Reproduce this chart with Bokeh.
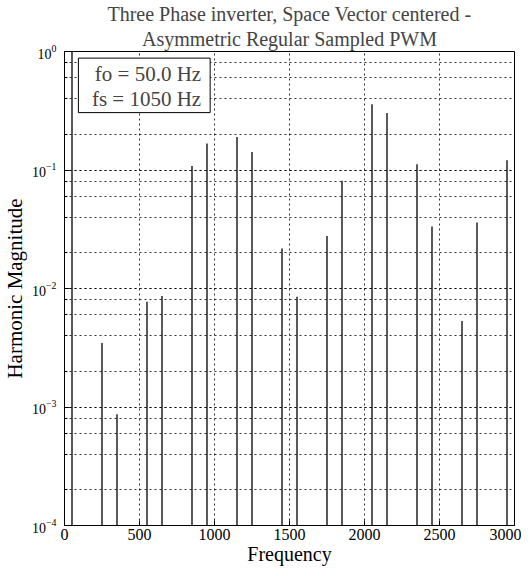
from bokeh.plotting import figure
from bokeh.models import (Range1d, Title, Label, BoxAnnotation,
                          LogTicker, FixedTicker, ColumnDataSource)
from bokeh.embed import file_html
from bokeh.resources import INLINE

# ---- data ----
freqs = [50, 250, 350, 550, 650, 850, 950, 1150, 1250, 1450, 1550,
         1750, 1850, 2050, 2150, 2350, 2450, 2650, 2750, 2950]
mags = [1.0, 0.00346, 0.00087, 0.00774, 0.00865, 0.108, 0.167, 0.19, 0.142,
        0.0218, 0.00853, 0.0277, 0.081, 0.358, 0.303, 0.112, 0.0334, 0.00532,
        0.036, 0.121]
x_ticks = [0, 500, 1000, 1500, 2000, 2500, 3000]
X_MIN, X_MAX = 0, 3000
Y_MIN, Y_MAX = 1e-4, 1.0
title_lines = ["Three Phase inverter, Space Vector centered -",
               "Asymmetric Regular Sampled PWM"]
legend_lines = ["fo = 50.0 Hz", "fs = 1050 Hz"]

FONT = "Liberation Serif"

p = figure(frame_width=450, frame_height=474, y_axis_type="log",
           x_range=Range1d(X_MIN, X_MAX), y_range=Range1d(Y_MIN, Y_MAX),
           output_backend="svg", toolbar_location=None, title=None,
           min_border_left=54, min_border_right=7, min_border_top=46,
           min_border_bottom=0)
p.background_fill_color = "white"
p.border_fill_color = "white"
p.outline_line_color = "black"
p.outline_line_alpha = 1.0

# titles (first added is closest to plot)
p.add_layout(Title(text=title_lines[1], align="center", text_font=FONT,
                   text_font_size="20px", text_font_style="normal",
                   standoff=3), "above")
p.add_layout(Title(text=title_lines[0], align="center", text_font=FONT,
                   text_font_size="20px", text_font_style="normal",
                   standoff=0), "above")

# x axis
xa = p.xaxis[0]
xa.ticker = FixedTicker(ticks=x_ticks)
xa.axis_label = "Frequency"
xa.axis_label_text_font = FONT
xa.axis_label_text_font_style = "normal"
xa.axis_label_text_font_size = "20px"
xa.axis_label_standoff = 0
xa.major_label_text_font = FONT
xa.major_label_text_font_size = "16px"
xa.major_label_standoff = 3
xa.major_tick_in = 5
xa.major_tick_out = 0
xa.axis_line_color = "black"

# y axis
ya = p.yaxis[0]
ya.ticker = LogTicker()
ya.axis_label = "Harmonic Magnitude"
ya.axis_label_text_font = FONT
ya.axis_label_text_font_style = "normal"
ya.axis_label_text_font_size = "21px"
ya.axis_label_standoff = 2
ya.major_label_text_font = FONT
ya.major_label_text_font_size = "14px"
ya.major_label_standoff = 8
ya.major_tick_in = 5
ya.major_tick_out = 0
ya.minor_tick_in = 3
ya.minor_tick_out = 0
ya.axis_line_color = "black"

for ax in (xa, ya):
    ax.major_label_text_color = "black"
    ax.axis_label_text_color = "black"
    ax.major_tick_line_color = "black"
xa.minor_tick_line_color = None
ya.minor_tick_line_color = "black"

# grids (dotted)
for g in (p.xgrid[0], p.ygrid[0]):
    g.grid_line_color = "black"
    g.grid_line_dash = "2 3"
    g.grid_line_alpha = 0.8
p.ygrid[0].minor_grid_line_color = "black"
p.ygrid[0].minor_grid_line_dash = "2 3"
p.ygrid[0].minor_grid_line_alpha = 0.8

# harmonic spikes
src = ColumnDataSource(dict(f=freqs, m=mags, base=[Y_MIN] * len(freqs)))
p.segment(x0="f", y0="base", x1="f", y1="m", source=src,
          line_color="black", line_width=1.3)

# legend-like info box
box = BoxAnnotation(left=92.7, right=971, bottom=0.305, top=0.879,
                    fill_color="white", fill_alpha=1.0,
                    line_color="black", line_width=1, line_alpha=1.0)
p.add_layout(box)
p.add_layout(Label(x=911, y=0.648, text=legend_lines[0], text_align="right",
                   text_baseline="middle", text_font=FONT, text_font_size="21px"))
p.add_layout(Label(x=911, y=0.40, text=legend_lines[1], text_align="right",
                   text_baseline="middle", text_font=FONT, text_font_size="21px"))

open("out.html", "w").write(file_html(p, INLINE))
